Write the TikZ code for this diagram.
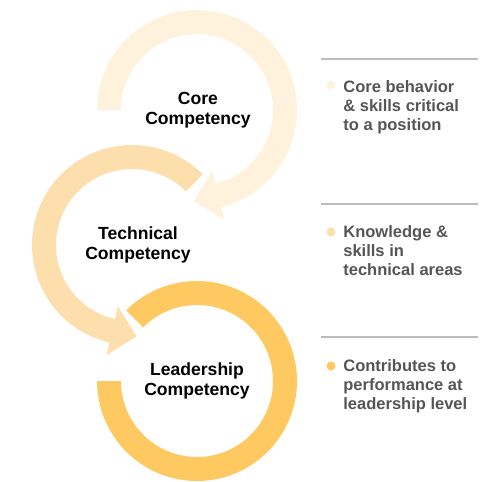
\documentclass[tikz,border=0pt]{standalone}
\usepackage{fontspec}
\setmainfont{Liberation Sans}
\usepackage{xcolor}
\usepackage{tikz}

\definecolor{corecol}{HTML}{FEF2DC}
\definecolor{techcol}{HTML}{FDDFAE}
\definecolor{leadcol}{HTML}{FFC961}
\definecolor{txtgray}{HTML}{555555}
\definecolor{rulegray}{HTML}{BDBDBD}

\begin{document}
\begin{tikzpicture}[x=0.02cm,y=0.02cm]
\tikzstyle{ring label} = [font=\fontsize{10}{11.4}\selectfont\bfseries, align=center, inner sep=0pt]
\tikzstyle{bullet} = [circle, inner sep=0pt, minimum size=0.18cm]
\tikzstyle{desc} = [font=\fontsize{9.4}{10.9}\selectfont\bfseries, text=txtgray, align=left, inner sep=0pt, anchor=north west]
\tikzstyle{sep} = [draw=rulegray, line width=0.6pt]
%
\useasboundingbox (0,0) rectangle (500,481);

	% ring centres
	\coordinate (core) at (197,371);
	\coordinate (tech) at (132,236);
	\coordinate (lead) at (197,100);

	% core ring, arrow into technical
	\begin{scope}[shift={(core)}]
		\fill[corecol] (180:100) arc (180:-76:100) -- (-76:113) -- (-3,-91.4)
			-- (-76:63) -- (-76:76) arc (-76:180:76) -- cycle;
	\end{scope}
	% technical ring, arrow into leadership
	\begin{scope}[shift={(tech)}]
		\fill[techcol] (45:100) arc (45:257:100) -- (257:113) -- (4.6,-91.3)
			-- (257:63) -- (257:76) arc (257:45:76) -- cycle;
	\end{scope}
	% leadership ring
	\begin{scope}[shift={(lead)}]
		\fill[leadcol] (135:100) arc (135:-180:100) -- (-180:76) arc (-180:135:76) -- cycle;
	\end{scope}

	\node[ring label] (coretxt) at (198,371) {Core\\Competency};
	\node[ring label] (techtxt) at (138,236) {Technical\\Competency};
	\node[ring label] (leadtxt) at (197,100) {Leadership\\Competency};

	% descriptions
	\draw[sep] (321,422) -- (478,422);
	\node[bullet, fill=corecol] (coredot) at (331,396) {};
	\node[desc] (coredesc) at (343,401) {Core behavior\\\& skills critical\\to a position};

	\draw[sep] (321,277) -- (478,277);
	\node[bullet, fill=techcol] (techdot) at (331,249) {};
	\node[desc] (techdesc) at (343,256) {Knowledge \&\\skills in\\technical areas};

	\draw[sep] (321,144) -- (478,144);
	\node[bullet, fill=leadcol] (leaddot) at (331,115) {};
	\node[desc] (leaddesc) at (343,122) {Contributes to\\performance at\\leadership level};
\end{tikzpicture}
\end{document}
